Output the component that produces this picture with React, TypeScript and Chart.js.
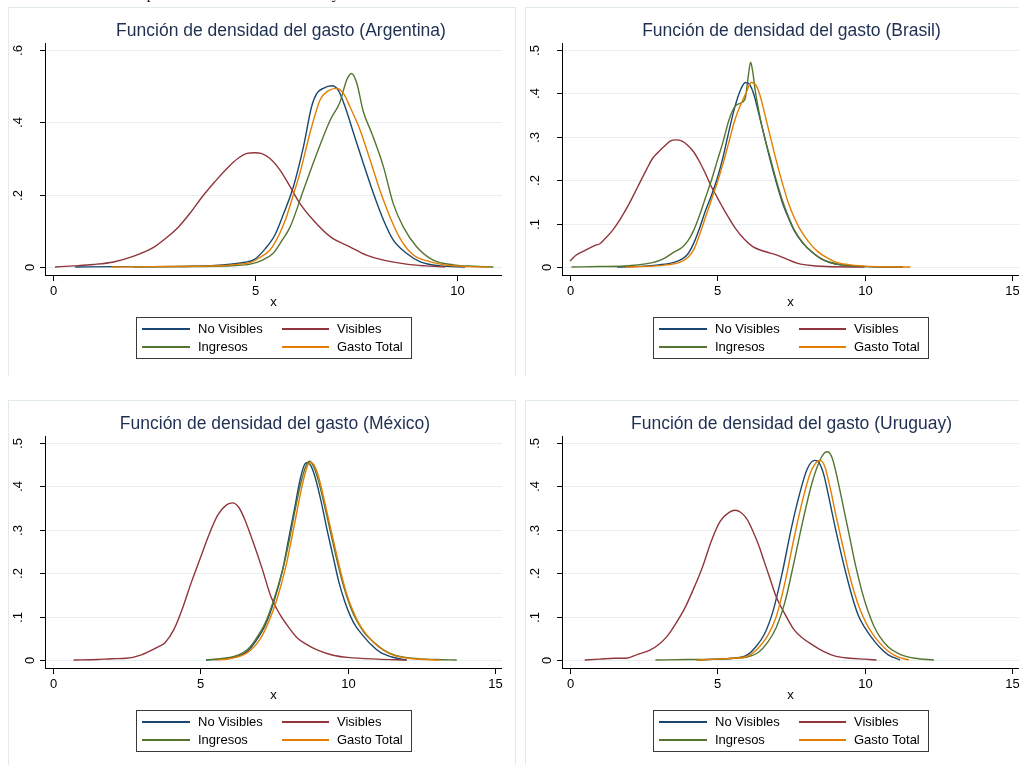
import React, { useEffect, useRef } from "react";
import { Chart, registerables } from "chart.js";

Chart.register(...registerables);

// ---------- labels & colours ----------
const SERIES_LABELS = ["No Visibles", "Visibles", "Ingresos", "Gasto Total"];
const SERIES_COLORS = ["#1a476f", "#90353b", "#55752f", "#e37e00"];
const PANEL_TITLES = [
  "Función de densidad del gasto (Argentina)",
  "Función de densidad del gasto (Brasil)",
  "Función de densidad del gasto (México)",
  "Función de densidad del gasto (Uruguay)",
];
const X_AXIS_TITLE = "x";
const PAGE_HEADING = "Componentes del consumo visible y no visible";

// ---------- ticks ----------
const xTicksArgentina = [0, 5, 10];
const xTicksOthers = [0, 5, 10, 15];
const yTicksArgentina = [0, 0.2, 0.4, 0.6];
const yTickLabelsArgentina = ["0", ".2", ".4", ".6"];
const yTicksOthers = [0, 0.1, 0.2, 0.3, 0.4, 0.5];
const yTickLabelsOthers = ["0", ".1", ".2", ".3", ".4", ".5"];

// ---------- data: [x, density] ----------
const argNoVisibles = [[0.55,0],[1.5,0.001],[2.5,0.001],[3.5,0.002],[4.0,0.004],[4.4,0.008],[4.75,0.013],[5.0,0.022],[5.25,0.05],[5.5,0.09],[5.7,0.145],[5.95,0.222],[6.2,0.333],[6.4,0.443],[6.53,0.48],[6.69,0.494],[6.9,0.501],[7.06,0.489],[7.23,0.443],[7.44,0.37],[7.68,0.287],[7.93,0.204],[8.18,0.13],[8.42,0.075],[8.75,0.038],[9.08,0.015],[9.58,0.003],[10.2,0]];
const argVisibles = [[0.05,0],[0.5,0.003],[1.0,0.007],[1.5,0.014],[2.0,0.03],[2.5,0.055],[2.8,0.08],[3.1,0.11],[3.4,0.15],[3.7,0.195],[4.0,0.235],[4.3,0.272],[4.6,0.302],[4.8,0.314],[5.0,0.316],[5.15,0.314],[5.37,0.3],[5.62,0.268],[5.87,0.222],[6.11,0.176],[6.44,0.13],[6.86,0.084],[7.35,0.056],[7.76,0.033],[8.18,0.019],[8.75,0.008],[9.25,0.003],[9.7,0]];
const argIngresos = [[2.0,0],[3.0,0.001],[4.0,0.002],[4.5,0.004],[4.88,0.008],[5.2,0.02],[5.45,0.038],[5.65,0.07],[5.87,0.111],[6.2,0.213],[6.53,0.314],[6.86,0.406],[7.1,0.455],[7.27,0.517],[7.39,0.535],[7.52,0.508],[7.68,0.43],[7.89,0.37],[8.18,0.277],[8.42,0.176],[8.67,0.111],[9.0,0.056],[9.41,0.019],[9.91,0.006],[10.4,0.002],[10.9,0]];
const argGastoTotal = [[1.45,0],[2.5,0.001],[3.5,0.002],[4.2,0.004],[4.6,0.008],[4.88,0.012],[5.1,0.025],[5.37,0.047],[5.6,0.09],[5.78,0.139],[5.95,0.2],[6.11,0.259],[6.36,0.37],[6.61,0.462],[6.81,0.487],[7.02,0.494],[7.19,0.48],[7.35,0.443],[7.6,0.379],[7.85,0.296],[8.09,0.213],[8.34,0.139],[8.59,0.079],[8.92,0.033],[9.33,0.015],[9.83,0.004],[10.3,0.001],[10.8,0]];

const braNoVisibles = [[1.6,0],[2.5,0.002],[3.0,0.005],[3.5,0.01],[3.8,0.018],[4.0,0.03],[4.2,0.055],[4.4,0.09],[4.6,0.13],[4.8,0.165],[5.0,0.205],[5.2,0.255],[5.4,0.315],[5.6,0.37],[5.8,0.41],[5.95,0.425],[6.1,0.42],[6.25,0.395],[6.4,0.355],[6.6,0.3],[6.8,0.245],[7.0,0.195],[7.2,0.15],[7.4,0.115],[7.6,0.085],[7.9,0.055],[8.2,0.035],[8.5,0.02],[8.8,0.011],[9.2,0.005],[9.7,0.002],[10.5,0.0005],[11.3,0]];
const braVisibles = [[0.0,0.014],[0.2,0.027],[0.5,0.038],[0.85,0.05],[1.0,0.053],[1.2,0.066],[1.45,0.085],[1.7,0.11],[2.0,0.145],[2.3,0.185],[2.6,0.225],[2.8,0.25],[3.0,0.265],[3.2,0.278],[3.4,0.29],[3.6,0.293],[3.8,0.29],[4.0,0.28],[4.2,0.265],[4.4,0.242],[4.6,0.215],[4.8,0.185],[5.0,0.16],[5.2,0.135],[5.4,0.112],[5.6,0.09],[5.9,0.065],[6.2,0.047],[6.5,0.038],[6.8,0.032],[7.0,0.028],[7.3,0.02],[7.7,0.009],[8.0,0.005],[8.7,0.001],[10.0,0]];
const braIngresos = [[0.05,0],[1.0,0.001],[2.0,0.003],[2.8,0.01],[3.2,0.02],[3.5,0.033],[3.8,0.045],[4.0,0.06],[4.2,0.085],[4.4,0.12],[4.6,0.16],[4.8,0.2],[5.0,0.245],[5.2,0.29],[5.4,0.34],[5.6,0.37],[5.8,0.378],[5.95,0.39],[6.05,0.44],[6.13,0.472],[6.2,0.45],[6.3,0.4],[6.45,0.345],[6.6,0.3],[6.8,0.25],[7.0,0.2],[7.2,0.155],[7.4,0.118],[7.6,0.087],[7.9,0.056],[8.2,0.035],[8.5,0.02],[8.8,0.011],[9.2,0.005],[9.7,0.002],[10.5,0.0005],[11.2,0]];
const braGastoTotal = [[1.9,0],[2.8,0.002],[3.3,0.005],[3.7,0.01],[4.0,0.022],[4.2,0.04],[4.4,0.075],[4.6,0.115],[4.8,0.155],[5.0,0.195],[5.2,0.24],[5.4,0.29],[5.6,0.34],[5.8,0.375],[6.0,0.405],[6.15,0.425],[6.3,0.42],[6.45,0.395],[6.6,0.355],[6.8,0.3],[7.0,0.245],[7.2,0.195],[7.4,0.15],[7.6,0.115],[7.8,0.088],[8.1,0.058],[8.4,0.036],[8.7,0.022],[9.0,0.012],[9.4,0.006],[10.0,0.002],[10.8,0.0005],[11.55,0]];

const mexNoVisibles = [[5.2,0],[5.8,0.003],[6.3,0.009],[6.6,0.02],[6.9,0.045],[7.2,0.08],[7.5,0.135],[7.8,0.21],[8.0,0.28],[8.2,0.35],[8.4,0.42],[8.55,0.452],[8.65,0.455],[8.75,0.448],[8.9,0.42],[9.1,0.365],[9.3,0.3],[9.5,0.24],[9.7,0.18],[9.9,0.135],[10.1,0.1],[10.3,0.075],[10.5,0.058],[10.8,0.035],[11.1,0.018],[11.5,0.007],[12.0,0]];
const mexVisibles = [[0.7,0],[1.5,0.001],[2.0,0.003],[2.5,0.004],[3.0,0.012],[3.5,0.028],[3.8,0.04],[4.1,0.07],[4.4,0.12],[4.7,0.18],[5.0,0.235],[5.3,0.29],[5.6,0.335],[5.9,0.358],[6.1,0.362],[6.3,0.352],[6.5,0.325],[6.8,0.27],[7.1,0.21],[7.4,0.145],[7.7,0.105],[8.0,0.075],[8.3,0.05],[8.6,0.036],[9.0,0.022],[9.5,0.011],[10.0,0.006],[11.0,0.002],[12.0,0]];
const mexIngresos = [[5.2,0],[5.8,0.004],[6.3,0.012],[6.6,0.024],[6.9,0.05],[7.2,0.085],[7.5,0.14],[7.8,0.21],[8.0,0.27],[8.2,0.34],[8.4,0.405],[8.6,0.45],[8.72,0.458],[8.85,0.445],[9.0,0.415],[9.2,0.36],[9.4,0.3],[9.6,0.24],[9.8,0.185],[10.0,0.14],[10.2,0.105],[10.4,0.08],[10.6,0.06],[10.9,0.04],[11.2,0.024],[11.6,0.011],[12.2,0.004],[13.0,0.001],[13.7,0]];
const mexGastoTotal = [[5.55,0],[6.0,0.003],[6.4,0.01],[6.7,0.022],[7.0,0.045],[7.3,0.085],[7.6,0.14],[7.9,0.215],[8.1,0.28],[8.3,0.35],[8.5,0.415],[8.65,0.45],[8.75,0.455],[8.85,0.45],[9.0,0.425],[9.2,0.37],[9.4,0.31],[9.6,0.25],[9.8,0.193],[10.0,0.145],[10.2,0.11],[10.4,0.082],[10.6,0.062],[10.9,0.04],[11.2,0.023],[11.6,0.01],[12.2,0.003],[13.1,0]];

const uruNoVisibles = [[4.3,0],[5.0,0.002],[5.5,0.004],[6.0,0.011],[6.3,0.03],[6.6,0.06],[6.9,0.115],[7.2,0.2],[7.5,0.3],[7.8,0.385],[8.05,0.44],[8.3,0.46],[8.45,0.455],[8.6,0.43],[8.8,0.37],[9.0,0.305],[9.2,0.245],[9.4,0.19],[9.6,0.14],[9.8,0.1],[10.0,0.075],[10.2,0.055],[10.5,0.03],[10.8,0.012],[11.2,0]];
const uruVisibles = [[0.5,0],[1.0,0.002],[1.5,0.004],[1.9,0.004],[2.3,0.013],[2.7,0.022],[3.0,0.035],[3.3,0.055],[3.6,0.085],[3.9,0.12],[4.2,0.165],[4.5,0.215],[4.8,0.275],[5.1,0.32],[5.4,0.34],[5.6,0.345],[5.8,0.34],[6.0,0.325],[6.2,0.298],[6.4,0.265],[6.6,0.225],[6.8,0.185],[7.0,0.145],[7.3,0.105],[7.6,0.07],[7.9,0.05],[8.2,0.036],[8.6,0.02],[9.0,0.009],[9.5,0.004],[10.0,0.002],[10.4,0]];
const uruIngresos = [[2.9,0],[4.0,0.001],[5.0,0.002],[5.6,0.004],[6.0,0.007],[6.4,0.018],[6.7,0.04],[7.0,0.075],[7.3,0.135],[7.6,0.225],[7.9,0.32],[8.2,0.405],[8.45,0.455],[8.65,0.478],[8.75,0.48],[8.9,0.465],[9.1,0.41],[9.3,0.345],[9.5,0.28],[9.7,0.215],[9.9,0.16],[10.1,0.115],[10.3,0.08],[10.5,0.055],[10.8,0.03],[11.2,0.013],[11.7,0.004],[12.35,0]];
const uruGastoTotal = [[4.3,0],[5.0,0.002],[5.5,0.004],[6.0,0.008],[6.35,0.025],[6.7,0.055],[7.0,0.1],[7.3,0.18],[7.6,0.28],[7.9,0.37],[8.15,0.43],[8.4,0.458],[8.5,0.46],[8.65,0.445],[8.85,0.39],[9.05,0.325],[9.25,0.265],[9.45,0.205],[9.65,0.155],[9.85,0.115],[10.05,0.085],[10.25,0.062],[10.5,0.04],[10.8,0.02],[11.1,0.008],[11.5,0]];

// ---------- layout ----------
const CANVAS_W = 508;
const CANVAS_H = 369;
const PLOT = { left: 37, top: 36, right: 494, bottom: 268 };
const FONT = "'Liberation Sans', Arial, Helvetica, sans-serif";
const TITLE_COLOR = "#1e2f52";
const GRID_COLOR = "#e6eef0";
const FRAME_COLOR = "#e1eaec";

type PanelCfg = {
  title: string;
  titleX: number;
  left: number;
  top: number;
  xMin: number;
  xMax: number;
  yMin: number;
  yMax: number;
  xTicks: number[];
  yTicks: number[];
  yTickLabels: string[];
  series: number[][][];
};

const PANELS: PanelCfg[] = [
  { title: PANEL_TITLES[0], titleX: 273, left: 8, top: 7, xMin: -0.198, xMax: 11.114, yMin: -0.0221, yMax: 0.6194,
    xTicks: xTicksArgentina, yTicks: yTicksArgentina, yTickLabels: yTickLabelsArgentina,
    series: [argNoVisibles, argVisibles, argIngresos, argGastoTotal] },
  { title: PANEL_TITLES[1], titleX: 266.5, left: 525, top: 7, xMin: -0.2715, xMax: 15.237, yMin: -0.01843, yMax: 0.51613,
    xTicks: xTicksOthers, yTicks: yTicksOthers, yTickLabels: yTickLabelsOthers,
    series: [braNoVisibles, braVisibles, braIngresos, braGastoTotal] },
  { title: PANEL_TITLES[2], titleX: 267, left: 8, top: 400, xMin: -0.2715, xMax: 15.237, yMin: -0.01843, yMax: 0.51613,
    xTicks: xTicksOthers, yTicks: yTicksOthers, yTickLabels: yTickLabelsOthers,
    series: [mexNoVisibles, mexVisibles, mexIngresos, mexGastoTotal] },
  { title: PANEL_TITLES[3], titleX: 266.5, left: 525, top: 400, xMin: -0.2715, xMax: 15.237, yMin: -0.01843, yMax: 0.51613,
    xTicks: xTicksOthers, yTicks: yTicksOthers, yTickLabels: yTickLabelsOthers,
    series: [uruNoVisibles, uruVisibles, uruIngresos, uruGastoTotal] },
];

function decorPlugin(cfg: PanelCfg) {
  return {
    id: "stataDecor",
    beforeDatasetsDraw(chart: any) {
      const { ctx, chartArea } = chart;
      const y = chart.scales.y;
      ctx.save();
      ctx.strokeStyle = GRID_COLOR;
      ctx.lineWidth = 1;
      cfg.yTicks.forEach((v) => {
        const py = Math.round(y.getPixelForValue(v)) + 0.5;
        ctx.beginPath();
        ctx.moveTo(chartArea.left, py);
        ctx.lineTo(chartArea.right, py);
        ctx.stroke();
      });
      ctx.restore();
    },
    afterDatasetsDraw(chart: any) {
      const { ctx, chartArea } = chart;
      const x = chart.scales.x;
      const y = chart.scales.y;
      const { left, right, top, bottom } = chartArea;
      ctx.save();

      // frame of the panel
      ctx.strokeStyle = FRAME_COLOR;
      ctx.lineWidth = 1;
      ctx.strokeRect(0.5, 0.5, CANVAS_W - 1, CANVAS_H + 10);

      // axes
      ctx.strokeStyle = "#000";
      ctx.lineWidth = 1;
      ctx.beginPath();
      ctx.moveTo(left + 0.5, top);
      ctx.lineTo(left + 0.5, bottom + 1);
      ctx.moveTo(left, bottom + 0.5);
      ctx.lineTo(right, bottom + 0.5);
      ctx.stroke();

      // x ticks
      ctx.fillStyle = "#000";
      ctx.font = `13px ${FONT}`;
      ctx.textAlign = "center";
      ctx.textBaseline = "alphabetic";
      cfg.xTicks.forEach((v) => {
        const px = Math.round(x.getPixelForValue(v)) + 0.5;
        ctx.beginPath();
        ctx.moveTo(px, bottom + 1);
        ctx.lineTo(px, bottom + 6);
        ctx.stroke();
        ctx.fillText(String(v), px, bottom + 20);
      });
      ctx.fillText(X_AXIS_TITLE, (left + right) / 2, bottom + 31);

      // y ticks (vertical labels)
      cfg.yTicks.forEach((v, i) => {
        const py = Math.round(y.getPixelForValue(v)) + 0.5;
        ctx.beginPath();
        ctx.moveTo(left - 5, py);
        ctx.lineTo(left, py);
        ctx.stroke();
        const lab = cfg.yTickLabels[i];
        const cx = lab === "0" ? left - 14.5 : left - 26.5;
        ctx.save();
        ctx.translate(cx, py);
        ctx.rotate(-Math.PI / 2);
        ctx.textAlign = "center";
        ctx.textBaseline = "middle";
        ctx.fillText(lab, 0, 0);
        ctx.restore();
      });

      // title
      ctx.fillStyle = TITLE_COLOR;
      ctx.font = `17.5px ${FONT}`;
      ctx.textAlign = "center";
      ctx.textBaseline = "alphabetic";
      ctx.fillText(cfg.title, cfg.titleX, 29);

      // legend box
      const bx = 128, by = 310, bw = 275, bh = 41;
      ctx.fillStyle = "#fff";
      ctx.fillRect(bx, by, bw, bh);
      ctx.strokeStyle = "#3a3a3a";
      ctx.lineWidth = 1;
      ctx.strokeRect(bx + 0.5, by + 0.5, bw, bh);
      const rows = [322, 340];
      const cols = [
        { l0: 134, l1: 182, t: 190 },
        { l0: 274, l1: 321, t: 329 },
      ];
      ctx.font = `13px ${FONT}`;
      ctx.textAlign = "left";
      ctx.textBaseline = "middle";
      SERIES_LABELS.forEach((lab, i) => {
        const r = rows[Math.floor(i / 2)];
        const c = cols[i % 2];
        ctx.strokeStyle = SERIES_COLORS[i];
        ctx.lineWidth = 1.8;
        ctx.beginPath();
        ctx.moveTo(c.l0, r);
        ctx.lineTo(c.l1, r);
        ctx.stroke();
        ctx.fillStyle = "#000";
        ctx.fillText(lab, c.t, r + 0.5);
      });

      ctx.restore();
    },
  };
}

function Panel({ cfg }: { cfg: PanelCfg }) {
  const ref = useRef<HTMLCanvasElement>(null);
  useEffect(() => {
    if (!ref.current) return;
    const drawOrder = [3, 2, 1, 0]; // Gasto Total drawn on top
    const chart = new Chart(ref.current, {
      type: "line",
      data: {
        datasets: drawOrder.map((i) => ({
          label: SERIES_LABELS[i],
          data: cfg.series[i].map(([px, py]) => ({ x: px, y: py })),
          borderColor: SERIES_COLORS[i],
          backgroundColor: SERIES_COLORS[i],
          borderWidth: 1.4,
          pointRadius: 0,
          fill: false,
          tension: 0.4,
          cubicInterpolationMode: "monotone" as const,
        })),
      },
      options: {
        animation: false,
        responsive: false,
        devicePixelRatio: 1,
        events: [],
        layout: {
          padding: {
            left: PLOT.left,
            top: PLOT.top,
            right: CANVAS_W - PLOT.right,
            bottom: CANVAS_H - PLOT.bottom,
          },
        },
        scales: {
          x: { type: "linear", display: false, min: cfg.xMin, max: cfg.xMax },
          y: { type: "linear", display: false, min: cfg.yMin, max: cfg.yMax },
        },
        plugins: {
          legend: { display: false },
          tooltip: { enabled: false },
          title: { display: false },
        },
      },
      plugins: [decorPlugin(cfg)],
    } as any);
    return () => chart.destroy();
  }, [cfg]);
  return (
    <canvas
      ref={ref}
      width={CANVAS_W}
      height={CANVAS_H}
      style={{ position: "absolute", left: cfg.left, top: cfg.top, width: CANVAS_W, height: CANVAS_H }}
    />
  );
}

export default function App() {
  return (
    <div
      style={{
        position: "absolute",
        left: 0,
        top: 0,
        width: 1019,
        height: 765,
        overflow: "hidden",
        background: "#fff",
      }}
    >
      <div
        style={{
          position: "absolute",
          left: 117,
          top: -14,
          whiteSpace: "nowrap",
          font: "15.35px 'Liberation Serif', 'Times New Roman', serif",
          lineHeight: "15.35px",
          color: "#000",
        }}
      >
        {PAGE_HEADING}
      </div>
      {PANELS.map((p, i) => (
        <Panel key={i} cfg={p} />
      ))}
    </div>
  );
}
